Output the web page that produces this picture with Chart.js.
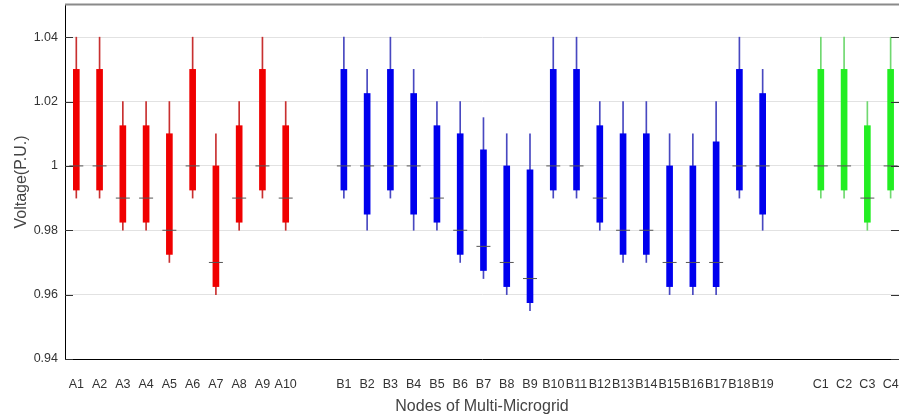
<!DOCTYPE html>
<html>
<head>
<meta charset="utf-8">
<script src="https://cdn.jsdelivr.net/npm/chart.js@4.4.0/dist/chart.umd.min.js"></script>
<style>
  html, body { margin: 0; padding: 0; background: #fff; overflow: hidden; }
  canvas { display: block; }
</style>
</head>
<body>
<canvas id="voltage-chart" width="899" height="420"></canvas>
<script>
const nodes = ['A1', 'A2', 'A3', 'A4', 'A5', 'A6', 'A7', 'A8', 'A9', 'A10',
    'B1', 'B2', 'B3', 'B4', 'B5', 'B6', 'B7', 'B8', 'B9', 'B10', 'B11', 'B12', 'B13', 'B14', 'B15', 'B16', 'B17', 'B18', 'B19',
    'C1', 'C2', 'C3', 'C4'];

const maxV = [1.04, 1.04, 1.02, 1.02, 1.02, 1.04, 1.01, 1.02, 1.04, 1.02,
    1.04, 1.03, 1.04, 1.03, 1.02, 1.02, 1.015, 1.01, 1.01, 1.04, 1.04, 1.02, 1.02, 1.02, 1.01, 1.01, 1.02, 1.04, 1.03,
    1.04, 1.04, 1.02, 1.04];
const q3V = [1.03, 1.03, 1.0125, 1.0125, 1.01, 1.03, 1.00, 1.0125, 1.03, 1.0125,
    1.03, 1.0225, 1.03, 1.0225, 1.0125, 1.01, 1.005, 1.00, 0.99875, 1.03, 1.03, 1.0125, 1.01, 1.01, 1.00, 1.00, 1.0075, 1.03, 1.0225,
    1.03, 1.03, 1.0125, 1.03];
const medV = [1, 1, 0.99, 0.99, 0.98, 1, 0.97, 0.99, 1, 0.99,
    1, 1, 1, 1, 0.99, 0.98, 0.975, 0.97, 0.965, 1, 1, 0.99, 0.98, 0.98, 0.97, 0.97, 0.97, 1, 1,
    1, 1, 0.99, 1];
const q1V = [0.9925, 0.9925, 0.9825, 0.9825, 0.9725, 0.9925, 0.9625, 0.9825, 0.9925, 0.9825,
    0.9925, 0.985, 0.9925, 0.985, 0.9825, 0.9725, 0.9675, 0.9625, 0.9575, 0.9925, 0.9925, 0.9825, 0.9725, 0.9725, 0.9625, 0.9625, 0.9625, 0.9925, 0.985,
    0.9925, 0.9925, 0.9825, 0.9925];
const minV = [0.99, 0.99, 0.98, 0.98, 0.97, 0.99, 0.96, 0.98, 0.99, 0.98,
    0.99, 0.98, 0.99, 0.98, 0.98, 0.97, 0.965, 0.96, 0.955, 0.99, 0.99, 0.98, 0.97, 0.97, 0.96, 0.96, 0.96, 0.99, 0.98,
    0.99, 0.99, 0.98, 0.99];

const yTicks = [0.94, 0.96, 0.98, 1, 1.02, 1.04];

const groups = ['A', 'B', 'C'];
const boxColors = { A: '#f00000', B: '#0000ee', C: '#22ee22' };
const whiskerColors = { A: '#c83030', B: '#4848c0', C: '#70d870' };
const groupGap = 1.5;

// x position of each node: one unit per node, extra gap between groups
const positions = nodes.map((name, i) => i + 1 + groups.indexOf(name[0]) * groupGap);
const groupOfNode = nodes.map(name => name[0]);

const whiskerData = nodes.map((n, i) => ({ x: positions[i], y: [minV[i], maxV[i]] }));
const boxData = nodes.map((n, i) => ({ x: positions[i], y: [q1V[i], q3V[i]] }));
const medianData = nodes.map((n, i) => ({ x: positions[i], y: medV[i] }));

const fontFamily = "'Liberation Sans', Arial, sans-serif";

const frame = {
    id: 'frame',
    afterDraw(chart) {
        const ctx = chart.ctx;
        const area = chart.chartArea;
        const y = chart.scales.y;
        ctx.save();
        // top border
        ctx.strokeStyle = '#8a8a8a';
        ctx.lineWidth = 2;
        ctx.beginPath();
        ctx.moveTo(area.left, area.top - 0.5);
        ctx.lineTo(area.right, area.top - 0.5);
        ctx.stroke();
        // inward tick marks
        ctx.strokeStyle = '#333';
        ctx.lineWidth = 1;
        yTicks.forEach(v => {
            const py = Math.round(y.getPixelForValue(v)) + 0.5;
            ctx.beginPath();
            ctx.moveTo(area.left, py);
            ctx.lineTo(area.left + 8, py);
            ctx.moveTo(area.right, py);
            ctx.lineTo(area.right - 8, py);
            ctx.stroke();
        });
        ctx.restore();
    }
};

new Chart(document.getElementById('voltage-chart'), {
    type: 'bar',
    data: {
        datasets: [{
            label: 'whisker',
            data: whiskerData,
            backgroundColor: groupOfNode.map(g => whiskerColors[g]),
            barThickness: 1,
            grouped: false,
            order: 3
        }, {
            label: 'box',
            data: boxData,
            backgroundColor: groupOfNode.map(g => boxColors[g]),
            barThickness: 6,
            grouped: false,
            order: 2
        }, {
            type: 'scatter',
            label: 'median',
            data: medianData,
            pointStyle: 'line',
            pointRadius: 7,
            borderWidth: 1,
            borderColor: '#555',
            order: 1
        }]
    },
    options: {
        responsive: false,
        animation: false,
        layout: { autoPadding: false, padding: { top: 5, right: 0, left: 0, bottom: 0 } },
        plugins: {
            legend: { display: false },
            tooltip: { enabled: false }
        },
        scales: {
            x: {
                type: 'linear',
                offset: false,
                min: 0.514,
                max: 36.36,
                grid: { display: false },
                border: { display: true, color: '#000', width: 1 },
                afterBuildTicks: scale => {
                    scale.ticks = positions.map(p => ({ value: p }));
                },
                afterFit: scale => {
                    scale.height = 61;
                    scale.paddingLeft = 0;
                    scale.paddingRight = 0;
                },
                ticks: {
                    autoSkip: false,
                    maxRotation: 0,
                    padding: 10,
                    color: '#333',
                    font: { family: fontFamily, size: 12.5 },
                    callback: value => nodes[positions.indexOf(value)]
                },
                title: {
                    display: true,
                    text: 'Nodes of Multi-Microgrid',
                    color: '#444',
                    font: { family: fontFamily, size: 16 },
                    padding: { top: 0, bottom: 4 }
                }
            },
            y: {
                min: 0.94,
                max: 1.05,
                grid: { color: '#e2e2e2', drawTicks: false },
                border: { display: true, color: '#000', width: 1 },
                afterBuildTicks: scale => {
                    scale.ticks = yTicks.map(v => ({ value: v }));
                },
                afterFit: scale => {
                    scale.width = 65;
                    scale.paddingTop = 0;
                    scale.paddingBottom = 0;
                },
                ticks: {
                    padding: 7,
                    color: '#333',
                    font: { family: fontFamily, size: 12.5 },
                    callback: value => String(value)
                },
                title: {
                    display: true,
                    text: 'Voltage(P.U.)',
                    color: '#444',
                    font: { family: fontFamily, size: 16 },
                    padding: { top: 12, bottom: 0 }
                }
            }
        }
    },
    plugins: [frame]
});
</script>
</body>
</html>
